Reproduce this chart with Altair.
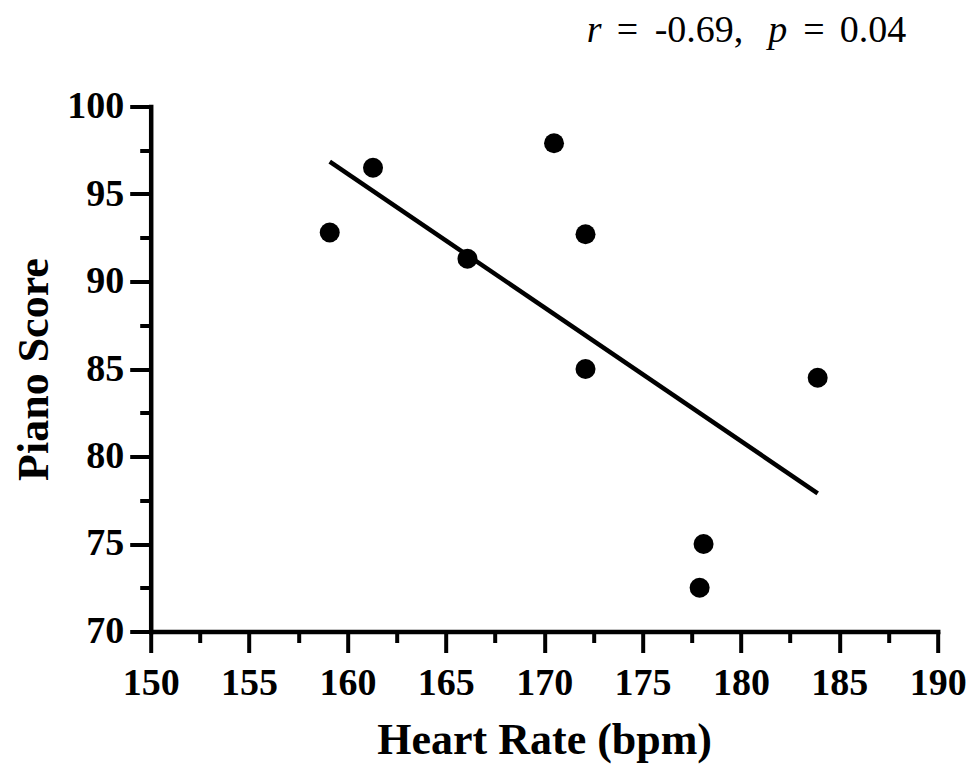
import altair as alt
import pandas as pd

# Data
heart_rate = [159.1, 161.3, 166.1, 170.5, 172.1, 172.1, 183.9, 178.1, 177.9]
piano_score = [92.8, 96.5, 91.3, 97.9, 92.7, 85.0, 84.5, 75.0, 72.5]

# Tick values (major every 5, minor halfway)
x_ticks = [150, 152.5, 155, 157.5, 160, 162.5, 165, 167.5, 170, 172.5,
           175, 177.5, 180, 182.5, 185, 187.5, 190]
y_ticks = [70, 72.5, 75, 77.5, 80, 82.5, 85, 87.5, 90, 92.5, 95, 97.5, 100]

# Annotation pieces (text, italic?)
ann_tokens = [("r", True), ("=", False), ("-0.69,", False),
              ("p", True), ("=", False), ("0.04", False)]
ann_x = [436, 466, 504, 617.5, 652.5, 689]

df = pd.DataFrame({"hr": heart_rate, "score": piano_score})

FONT = "Liberation Serif"
tick_size = {"condition": {"test": "datum.value % 5 === 0", "value": 21}, "value": 11}
label_expr = "datum.value % 5 === 0 ? datum.label : ''"

common_axis = dict(
    grid=False,
    domainColor="black",
    domainWidth=4.5,
    domainCap="square",
    tickColor="black",
    tickWidth=4,
    tickSize=tick_size,
    labelExpr=label_expr,
    labelFont=FONT,
    labelFontSize=38,
    labelFontWeight="bold",
    labelColor="black",
    labelFlush=False,
    labelOverlap=False,
    titleFont=FONT,
    titleFontSize=44,
    titleFontWeight="bold",
    titleColor="black",
)

x_enc = alt.X(
    "hr:Q",
    scale=alt.Scale(domain=[150, 190], nice=False, zero=False),
    axis=alt.Axis(values=x_ticks, title="Heart Rate (bpm)", labelPadding=12,
                  titlePadding=16, **common_axis),
)
y_enc = alt.Y(
    "score:Q",
    scale=alt.Scale(domain=[70, 100], nice=False, zero=False),
    axis=alt.Axis(values=y_ticks, title="Piano Score", labelPadding=6,
                  titlePadding=10, **common_axis),
)

points = alt.Chart(df).mark_circle(size=400, color="black", opacity=1).encode(
    x=x_enc, y=y_enc
)

line = (
    alt.Chart(df)
    .transform_regression("hr", "score")
    .mark_line(color="black", strokeWidth=4.5, strokeCap="butt")
    .encode(x="hr:Q", y="score:Q")
)


def ann(text, xpos, italic):
    d = pd.DataFrame({"t": [text]})
    kw = dict(font=FONT, fontSize=38, color="black", align="left",
              baseline="alphabetic", x=xpos, y=-65)
    if italic:
        kw["fontStyle"] = "italic"
    return alt.Chart(d).mark_text(**kw).encode(text="t:N")


ann_layers = [ann(t, xp, it) for (t, it), xp in zip(ann_tokens, ann_x)]

chart = (
    alt.layer(line, points, *ann_layers)
    .properties(
        width=787,
        height=525,
        padding={"left": 142.7, "top": 98.5, "right": 29, "bottom": 136},
        autosize=alt.AutoSizeParams(type="none"),
        background="white",
    )
    .configure_view(stroke=None)
)

chart.save("out.html", embed_options={"renderer": "svg", "actions": False})
